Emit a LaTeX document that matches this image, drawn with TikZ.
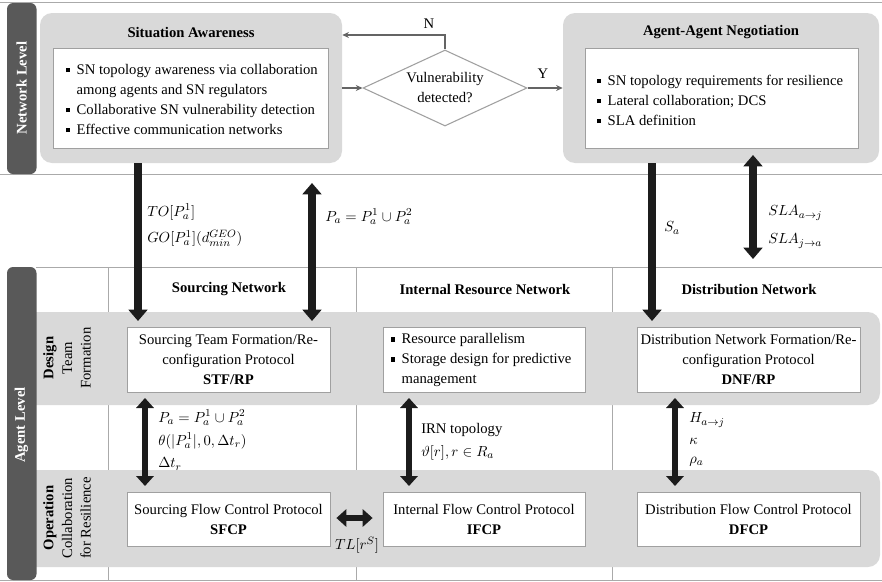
\documentclass[tikz,border=0pt]{standalone}
\usepackage{fontspec}
\setmainfont{Liberation Serif}
\usetikzlibrary{arrows.meta,shapes.geometric,fit}

\definecolor{panelgrey}{RGB}{217,217,217}
\definecolor{bargrey}{RGB}{89,89,89}
\definecolor{boxline}{RGB}{160,160,160}
\definecolor{flowgrey}{RGB}{100,100,100}
\definecolor{frameline}{RGB}{170,170,170}
\definecolor{arrowblack}{RGB}{28,28,28}

\newcommand\sqbullet{\raisebox{0.28ex}{\rule{3.2pt}{3.2pt}}\hspace{5pt}}
\newcommand\sqindent{\hphantom{\sqbullet}}

\tikzset{
  panel/.style={fill=panelgrey, draw=none, rounded corners=9pt, inner sep=0pt},
  whitebox/.style={fill=white, draw=boxline, line width=0.6pt, inner sep=0pt},
  levelbar/.style={fill=bargrey, rounded corners=4.5pt},
  bartext/.style={rotate=90, text=white, font=\bfseries\fontsize{11}{13}\selectfont},
  sidetext/.style={rotate=90, align=center, font=\fontsize{11}{14}\selectfont},
  title/.style={font=\bfseries\fontsize{11}{15}\selectfont},
  txt/.style={align=center, font=\fontsize{11}{15}\selectfont},
  bullets/.style={align=left, anchor=west, font=\fontsize{11}{15}\selectfont},
  lbl/.style={anchor=west, font=\fontsize{11}{15}\selectfont, inner sep=0pt},
  flow/.style={draw=flowgrey, line width=0.8pt, -{Stealth[length=5pt,width=4.5pt]}},
  decision/.style={diamond, draw=boxline, line width=0.8pt, fill=white, aspect=2.16,
    minimum width=123pt, minimum height=57pt, inner sep=0pt, align=center,
    font=\fontsize{11}{15}\selectfont},
  bigarrow/.style={draw=arrowblack, line width=6pt, -{Triangle[length=8.5pt,width=14pt]}},
  bigdouble/.style={draw=arrowblack, line width=6pt,
    {Triangle[length=8.5pt,width=14pt]}-{Triangle[length=8.5pt,width=14pt]}},
  smalldouble/.style={draw=arrowblack, line width=5.2pt,
    {Triangle[length=7.5pt,width=13pt]}-{Triangle[length=7.5pt,width=13pt]}},
  sepline/.style={draw=frameline, line width=0.6pt},
}

\begin{document}
\begin{tikzpicture}[x=0.75pt,y=-0.75pt]
\useasboundingbox (0,0) rectangle (882,582);

% ---------------- network level ----------------
\draw[sepline] (0,2) -- (882,2);
\draw[sepline] (0,174.5) -- (882,174.5);
\fill[levelbar] (7,3) rectangle (36.5,174);
\node[bartext] at (21.5,88) {Network Level};

% situation awareness
\node[panel, fit={(40,13) (342,163)}] (sa) {};
\node[title] at (191,32) {Situation Awareness};
\node[whitebox, fit={(53,48) (328,148)}] (sain) {};
\node[bullets] at (61,99) {\sqbullet SN topology awareness via collaboration\\
  \sqindent among agents and SN regulators\\
  \sqbullet Collaborative SN vulnerability detection\\
  \sqbullet Effective communication networks};

% agent-agent negotiation
\node[panel, fit={(563,13) (879,163)}] (aan) {};
\node[title] at (721,32) {Agent-Agent Negotiation};
\node[whitebox, fit={(585,48) (858,148)}] (aanin) {};
\node[bullets] at (592,100) {\sqbullet SN topology requirements for resilience\\
  \sqbullet Lateral collaboration; DCS\\
  \sqbullet SLA definition};

% decision
\node[decision] (dia) at (445,88) {Vulnerability\\detected?};
\coordinate (nturn) at (445,35);
\draw[flow] (sa.east) -- (dia.west);
\draw[flow] (dia.east) -- (aan.west);
\draw[flow] (dia.north) -- (nturn) -- (nturn -| sa.east);
\node[txt] at (429,24) {N};
\node[txt] at (543,74) {Y};

% ---------------- agent level ----------------
\draw[sepline] (36,267) -- (882,267);
\draw[sepline] (0,580.5) -- (882,580.5);
\foreach \xx in {108,356,612}
  \draw[draw=frameline, line width=0.5pt] (\xx,267) -- (\xx,580);

\node[title] at (229,289) {Sourcing Network};
\node[title] at (485,289) {Internal Resource Network};
\node[title] at (749,289) {Distribution Network};

% bands
\fill[panelgrey, rounded corners=9pt] (20,312) rectangle (880,405);
\fill[panelgrey, rounded corners=9pt] (20,470) rectangle (880,567);
\fill[levelbar] (7,267) rectangle (36.5,580);
\node[bartext] at (21.5,425) {Agent Level};

\node[sidetext] at (67,358) {\textbf{Design}\\Team\\Formation};
\node[sidetext] at (67,518) {\textbf{Operation}\\Collaboration\\for Resilience};

% design protocols
\node[whitebox, fit={(127,327) (330,392)}] (stf) {};
\node[txt] at (stf.center) {Sourcing Team Formation/Re-\\configuration Protocol\\\textbf{STF/RP}};
\node[whitebox, fit={(383,327) (585,392)}] (irn) {};
\node[bullets] at (386,360) {\sqbullet Resource parallelism\\
  \sqbullet Storage design for predictive\\
  \sqindent management};
\node[whitebox, fit={(637,327) (860,392)}] (dnf) {};
\node[txt] at (dnf.center) {Distribution Network Formation/Re-\\configuration Protocol\\\textbf{DNF/RP}};

% operation protocols
\node[whitebox, fit={(127,492) (330,546)}] (sfcp) {};
\node[txt] at (sfcp.center) {Sourcing Flow Control Protocol\\\textbf{SFCP}};
\node[whitebox, fit={(383,492) (585,546)}] (ifcp) {};
\node[txt] at (ifcp.center) {Internal Flow Control Protocol\\\textbf{IFCP}};
\node[whitebox, fit={(637,492) (860,546)}] (dfcp) {};
\node[txt] at (dfcp.center) {Distribution Flow Control Protocol\\\textbf{DFCP}};

% ---------------- vertical exchanges ----------------
\coordinate (a1end) at (138,321);
\coordinate (a2top) at (312,183);
\coordinate (a2end) at (312,321);
\coordinate (a3end) at (652,321);
\coordinate (a4top) at (753,155);
\coordinate (a4end) at (753,259);
\draw[bigarrow] (sa.south -| a1end) -- (a1end);
\draw[bigdouble] (a2top) -- (a2end);
\draw[bigarrow] (aan.south -| a3end) -- (a3end);
\draw[bigdouble] (a4top) -- (a4end);

\node[lbl] at (147,212) {$TO[P_a^1]$};
\node[lbl] at (147,238) {$GO[P_a^1]\big(d_{min}^{GEO}\big)$};
\node[lbl] at (325,217) {$P_a = P_a^1 \cup P_a^2$};
\node[lbl] at (664,228) {$S_a$};
\node[lbl] at (768,213) {$SLA_{a\to j}$};
\node[lbl] at (768,241) {$SLA_{j\to a}$};

% design <-> operation
\coordinate (b1top) at (145,398);
\coordinate (b1end) at (145,486);
\coordinate (b2top) at (409,398);
\coordinate (b2end) at (409,486);
\coordinate (b3top) at (675,398);
\coordinate (b3end) at (675,486);
\draw[smalldouble] (b1top) -- (b1end);
\draw[smalldouble] (b2top) -- (b2end);
\draw[smalldouble] (b3top) -- (b3end);

\node[lbl] at (158,418) {$P_a = P_a^1 \cup P_a^2$};
\node[lbl] at (158,441) {$\theta(|P_a^1|, 0, \Delta t_r)$};
\node[lbl] at (158,464) {$\Delta t_r$};
\node[lbl] at (421,430) {IRN topology};
\node[lbl] at (421,453) {$\vartheta[r], r \in R_a$};
\node[lbl] at (689,420) {$H_{a\to j}$};
\node[lbl] at (689,441) {$\kappa$};
\node[lbl] at (689,462) {$\rho_a$};

% sourcing <-> internal flow control
\draw[smalldouble] (sfcp.east |- 0,518) ++(6,0) coordinate (c1) -- ([xshift=-7.5]ifcp.west |- c1);
\node[font=\fontsize{11}{15}\selectfont] at (357,545) {$TL[r^S]$};

\end{tikzpicture}
\end{document}
